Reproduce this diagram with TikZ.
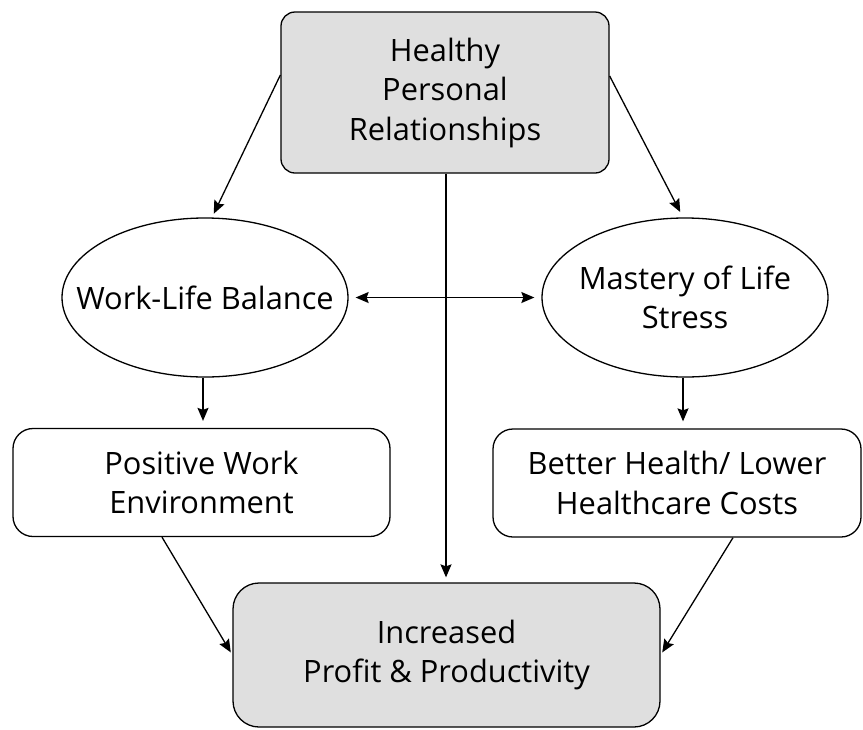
\documentclass[tikz,border=0pt]{standalone}
\usepackage{fontspec}
\setmainfont{Open Sans}
\usetikzlibrary{arrows.meta,shapes.geometric,calc}
\definecolor{boxgray}{HTML}{DFDFDF}
\begin{document}
\begin{tikzpicture}[x=1pt,y=-1pt,
  every node/.style={font=\fontsize{30.8}{39.5}\selectfont, align=center, line width=1.3pt, draw=black, inner sep=0pt},
  graybox/.style={rectangle, rounded corners=14pt, fill=boxgray},
  whitebox/.style={rectangle, rounded corners=20pt, fill=white},
  oval/.style={ellipse, fill=white},
  txt/.style={draw=none, fill=none},
  conn/.style={line width=1.3pt, -{Stealth[length=13pt,width=11pt,inset=2pt]}},
  dconn/.style={line width=1.3pt, {Stealth[length=13pt,width=11pt,inset=2pt]}-{Stealth[length=13pt,width=11pt,inset=2pt]}}
]
\useasboundingbox (0,0) rectangle (863,729);
\node[graybox, minimum width=328pt, minimum height=161pt] (tb) at (445,92.5) {Healthy\\Personal\\Relationships};
\node[oval, minimum width=286pt, minimum height=159pt] (le) at (205,297.5) {};
\node[txt] (let) at (le) {Work-Life Balance};
\node[oval, minimum width=286pt, minimum height=159pt] (re) at (685,297.5) {};
\node[txt] (ret) at (re) {Mastery of Life\\Stress};
\node[whitebox, minimum width=377pt, minimum height=108pt] (lb) at (201.5,482.5) {Positive Work\\Environment};
\node[whitebox, minimum width=368pt, minimum height=108pt] (rb) at (677,483) {Better Health/ Lower\\Healthcare Costs};
\node[graybox, rounded corners=26pt, minimum width=427pt, minimum height=144pt] (bb) at (446.5,655) {Increased\\Profit \& Productivity};

\draw[conn, shorten >=4pt] ([yshift=17.5pt]tb.west) -- ([xshift=7pt]le.north);
\draw[conn, shorten >=6pt] ([yshift=16.5pt]tb.east) -- ([xshift=-2pt]re.north);
\draw[conn, shorten >=5pt] ([xshift=1pt]tb.south) -- ([xshift=1pt]tb.south |- bb.north);
\draw[dconn, shorten <=7pt, shorten >=7pt] (le.east) -- (re.west);
\draw[conn, shorten >=7pt] ([xshift=-2pt]le.south) -- ([xshift=-2pt]le.south |- lb.north);
\draw[conn, shorten >=7pt] ([xshift=-2pt]re.south) -- ([xshift=-2pt]re.south |- rb.north);
\draw[conn, shorten >=3pt] ([xshift=-39.5pt]lb.south) -- (bb.west);
\draw[conn, shorten >=3pt] ([xshift=56pt]rb.south) -- (bb.east);
\end{tikzpicture}
\end{document}
